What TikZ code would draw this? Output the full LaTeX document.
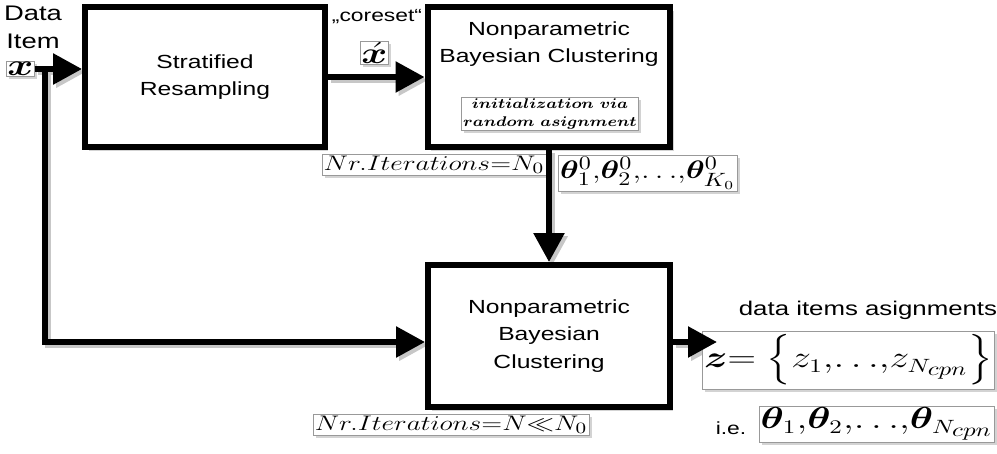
\documentclass[tikz,border=0pt]{standalone}
\usepackage{fontspec}
\setsansfont{Liberation Sans}
\usepackage{amsmath,amssymb,bm}
\usetikzlibrary{arrows.meta,shadows,calc}
\newcommand{\sx}[1]{\scalebox{1.3}[1]{#1}}
\pgfdeclarelayer{bg}
\pgfsetlayers{bg,main}
\begin{document}
\begin{tikzpicture}[x=0.02cm,y=-0.02cm,
  bigbox/.style={draw, line width=3.4pt, fill=white,
    drop shadow={opacity=0.35,shadow xshift=2pt,shadow yshift=-2pt},
    align=center, font=\sffamily\fontsize{10.8}{15.8}\selectfont, inner sep=0pt},
  lbl/.style={draw=black!40, line width=0.4pt, fill=white, inner sep=1pt,
    drop shadow={opacity=0.35, shadow xshift=1.5pt, shadow yshift=-1.5pt}},
  conn/.style={line width=3.4pt, -{Triangle[length=16.5pt,width=17pt]}},
  seg/.style={line width=3.4pt},
  shad/.style={line width=3.4pt, draw=black!22, transform canvas={shift={(1.8pt,-1.8pt)}}},
  shadtip/.style={shad, -{Triangle[length=16.5pt,width=17pt]}},
  plain/.style={inner sep=0pt, align=center}
]
\useasboundingbox (0,0) rectangle (997,453);

% main boxes
\node[bigbox, minimum width=4.8cm, minimum height=2.8cm] (b1) at (205,77) {\sx{Stratified}\\\sx{Resampling}};
\node[bigbox, minimum width=4.86cm, minimum height=2.8cm] (b2) at (549,77) {};
\node[plain, font=\sffamily\fontsize{10.8}{15.8}\selectfont] (b2t) at (549,44) {\sx{Nonparametric}\\\sx{Bayesian Clustering}};
\node[lbl, align=center, font=\fontsize{8.5}{10}\selectfont] (init) at (550,114) {\scalebox{1.15}[1]{\boldmath$initialization\ via$}\\\scalebox{1.15}[1]{\boldmath$random\ asignment$}};
\node[bigbox, minimum width=4.84cm, minimum height=2.84cm] (b3) at (549,336) {\sx{Nonparametric}\\\sx{Bayesian}\\\sx{Clustering}};

% labels
\node[plain, font=\sffamily\fontsize{12}{16}\selectfont] (dlab) at (33,27) {\sx{Data}\\\sx{Item}};
\node[lbl, inner sep=0.5pt, font=\fontsize{16}{18}\selectfont] (x) at (20.5,69) {\sx{$\bm x$}};
\node[plain, font=\sffamily\fontsize{10}{12}\selectfont] (core) at (377,17) {\sx{„coreset“}};
\node[lbl, inner sep=0.5pt, font=\fontsize{16}{18}\selectfont] (xc) at (374.5,53) {\sx{$\bm{\acute{x}}$}};
\node[lbl, font=\fontsize{12.5}{14}\selectfont] (it0) at (434,165) {\sx{$Nr.Iterations{=}N_0$}};
\node[lbl, anchor=west, font=\fontsize{15}{18}\selectfont] (th0) at (558,173) {\scalebox{1.25}[1]{$\bm\theta_1^0{,}\bm\theta_2^0{,}{\ldots}{,}\bm\theta_{K_0}^0$}};
\node[plain, font=\sffamily\fontsize{11.3}{14}\selectfont] (dia) at (868,310) {\sx{data items asignments}};
\node[lbl, anchor=east, font=\fontsize{16}{18}\selectfont] (zb) at (995,360) {\sx{$\bm z{=}\;\Big\{z_1{,}{\ldots}{,}z_{N_{\scriptstyle cpn}}\Big\}$}};
\node[plain, font=\sffamily\fontsize{10}{12}\selectfont] (ie) at (731,428) {\sx{i.e.}};
\node[lbl, anchor=east, font=\fontsize{16}{18}\selectfont] (thN) at (995,424) {\sx{$\bm\theta_1{,}\bm\theta_2{,}{\ldots}{,}\bm\theta_{N_{\scriptstyle cpn}}$}};
\node[lbl, font=\fontsize{12.8}{14}\selectfont] (it1) at (451,425) {\sx{$Nr.Iterations{=}N{\ll}N_0$}};

% connectors
\coordinate (split) at (45,69);
\coordinate (zin) at (717,342);
\newcommand{\connpaths}[2]{%
  \draw[#1] (x.east) -- (x.east -| b1.west);
  \draw[#2] (split) |- (397,342);
  \draw[#1] (split |- 0,342) -- ($(b3.west)+(0,6)$);
  \draw[#1] (b1.east) -- (b2.west);
  \draw[#1] (b2.south) -- (b3.north);
  \draw[#1] ($(b3.east)+(0,6)$) -- (zin);
}
\begin{pgfonlayer}{bg}
\connpaths{shadtip}{shad}
\end{pgfonlayer}
\connpaths{conn}{seg}
\end{tikzpicture}
\end{document}
